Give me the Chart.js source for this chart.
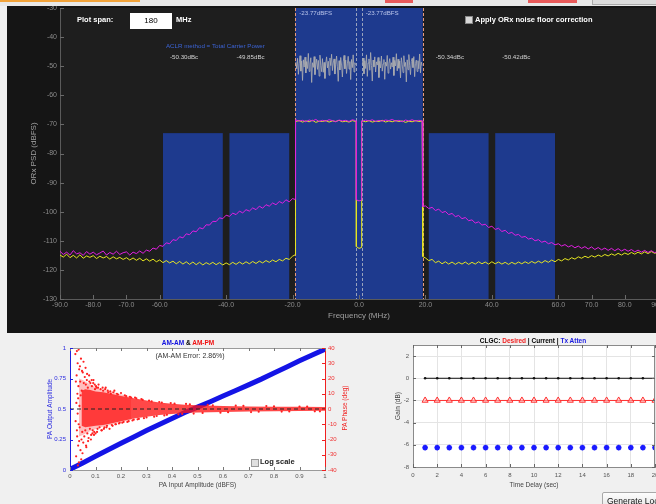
<!DOCTYPE html>
<html>
<head>
<meta charset="utf-8">
<title>ORx PSD / AM-AM / CLGC</title>
<script src="https://cdn.jsdelivr.net/npm/chart.js@4.4.1/dist/chart.umd.min.js"></script>
<style>
  html, body { margin: 0; padding: 0; }
  body { width: 656px; height: 504px; overflow: hidden; position: relative; background: #f0f0f0;
         font-family: "Liberation Sans", Arial, sans-serif; }
  .abs { position: absolute; white-space: nowrap; }
  canvas { position: absolute; }
  #header { left: 0; top: 0; width: 656px; height: 6px; background: #e8e8e8; overflow: hidden; z-index: 5; }
  #panel { left: 7px; top: 6px; width: 660px; height: 327px; background: #151515; }
  .w { color: #fff; font-weight: bold; font-size: 7.5px; line-height: 10px; }
  .btn { border: 1px solid #a8a8a8; border-radius: 2px; background: linear-gradient(#fdfdfd, #e4e4e4);
         font-size: 8.5px; line-height: 16px; color: #111; padding-left: 4px; }
</style>
</head>
<body>
<div id="header" class="abs">
  <div class="abs" style="left:0;top:0;width:140px;height:2px;background:#f2a33a"></div>
  <div class="abs" style="left:147px;top:-9px;font-size:9px;color:#2a7fd0">&#9654;</div>
  <div class="abs" style="left:160px;top:-14px;font-size:15px;color:#333"><b>Radio</b>Verse</div>
  <div class="abs" style="left:385px;top:0;width:28px;height:3px;background:#e85a5a"></div>
  <div class="abs" style="left:528px;top:0;width:49px;height:3px;background:#e85a5a"></div>
  <div class="abs" style="left:592px;top:-2px;width:70px;height:5px;background:#dcdcdc;border:1px solid #aaa"></div>
</div>
<div id="panel" class="abs"></div>
<canvas id="psd" width="670" height="333" style="left:0;top:0"></canvas>

<div class="abs w" style="left:77px;top:15px">Plot span:</div>
<div class="abs" style="left:130px;top:13px;width:42px;height:16px;background:#fff;color:#000;font-size:8px;line-height:16px;text-align:center">180</div>
<div class="abs w" style="left:176px;top:15px">MHz</div>
<div class="abs" style="left:465px;top:16px;width:6px;height:6px;background:#d8d8d8;border:1px solid #888"></div>
<div class="abs w" style="left:475px;top:15px">Apply ORx noise floor correction</div>

<canvas id="amam" width="362" height="171" style="left:0;top:333px"></canvas>
<div class="abs" style="left:138px;top:339px;width:100px;text-align:center;font-size:6.5px;font-weight:bold;line-height:8px"><span style="color:#1010e0">AM-AM</span> &amp; <span style="color:#f01010">AM-PM</span></div>
<div class="abs" style="left:140px;top:351px;width:100px;text-align:center;font-size:7px;color:#333;line-height:9px">(AM-AM Error: 2.86%)</div>
<div class="abs" style="left:251px;top:459px;width:6px;height:6px;background:#e0e0e0;border:1px solid #999"></div>
<div class="abs" style="left:260px;top:457px;font-size:7.5px;font-weight:bold;color:#222;line-height:10px">Log scale</div>
<div class="abs" style="left:345px;top:408px;transform:translate(-50%,-50%) rotate(-90deg);font-size:6.5px;color:#f02020;line-height:8px">PA Phase (deg)</div>

<canvas id="clgc" width="300" height="171" style="left:365px;top:333px"></canvas>
<div class="abs" style="left:433px;top:337px;width:200px;text-align:center;font-size:6.5px;font-weight:bold;line-height:8px">CLGC: <span style="color:#f02020">Desired</span> | Current | <span style="color:#1a1ae0">Tx Atten</span></div>
<div class="abs btn" style="left:602px;top:492px;width:76px;height:16px">Generate Loop...</div>

<script>
// ---------- ORx PSD spectrum ----------
const freqMHz = [
  -90, -89, -88, -87, -86, -85, -84, -83, -82, -81,
  -80, -79, -78, -77, -76, -75, -74, -73, -72, -71,
  -70, -69, -68, -67, -66, -65, -64, -63, -62, -61,
  -60, -59, -58, -57, -56, -55, -54, -53, -52, -51,
  -50, -49, -48, -47, -46, -45, -44, -43, -42, -41,
  -40, -39, -38, -37, -36, -35, -34, -33, -32, -31,
  -30, -29, -28, -27, -26, -25, -24, -23, -22, -21,
  -20,
  -19.2, -19.2,
  -19, -18, -17, -16, -15, -14, -13, -12, -11, -10, -9, -8, -7, -6, -5, -4, -3, -2, -1,
  -0.8, -0.8, 0, 0.8, 0.8,
  1, 2, 3, 4, 5, 6, 7, 8, 9, 10, 11, 12, 13, 14, 15, 16, 17, 18, 19,
  19.2, 19.2,
  20, 21, 22, 23, 24, 25, 26, 27, 28, 29,
  30, 31, 32, 33, 34, 35, 36, 37, 38, 39,
  40, 41, 42, 43, 44, 45, 46, 47, 48, 49,
  50, 51, 52, 53, 54, 55, 56, 57, 58, 59,
  60, 61, 62, 63, 64, 65, 66, 67, 68, 69,
  70, 71, 72, 73, 74, 75, 76, 77, 78, 79,
  80, 81, 82, 83, 84, 85, 86, 87, 88, 89,
  90
];
// PA output spectrum (magenta)
const paOutDb = [
  -113.6, -114.7, -113.9, -114.9, -113.4, -114.5, -114.1, -115.0, -113.7, -114.6,
  -113.9, -114.8, -114.2, -113.5, -114.9, -114.0, -114.6, -113.6, -114.7, -114.1,
  -113.8, -114.9, -113.9, -114.4, -113.5, -114.3, -113.2, -113.6, -112.5, -112.9,
  -111.6, -111.9, -110.7, -111.0, -109.6, -109.9, -108.6, -109.0, -107.6, -107.9,
  -106.6, -106.9, -105.5, -105.9, -104.5, -104.6, -103.3, -103.4, -102.1, -102.4,
  -101.2, -101.6, -100.5, -101.0, -99.8, -100.4, -99.3, -99.8, -98.7, -99.3,
  -98.1, -98.8, -97.6, -98.1, -97.0, -97.6, -96.5, -97.1, -95.9, -96.6,
  -95.5,
  -95.8, -68.9,
  -68.4, -68.9, -68.6, -69.1, -68.5, -68.8, -68.3, -69.0, -68.6, -68.9, -68.4, -68.7, -69.1, -68.5, -68.8, -68.6, -69.0, -68.4, -68.7,
  -68.8, -95.9, -96.3, -96.0, -68.7,
  -68.9, -68.5, -68.8, -68.4, -69.0, -68.6, -68.9, -68.5, -68.7, -68.3, -68.9, -68.6, -69.1, -68.5, -68.8, -68.4, -68.9, -68.6, -68.8,
  -68.7, -98.2,
  -98.0, -98.9, -98.5, -99.6, -99.1, -100.3, -99.9, -101.0, -100.6, -101.7,
  -101.3, -102.4, -102.0, -103.1, -102.8, -103.9, -103.5, -104.6, -104.3, -105.4,
  -105.0, -106.1, -105.7, -106.8, -106.4, -107.5, -107.1, -108.1, -107.8, -108.8,
  -108.5, -109.4, -109.1, -110.0, -109.6, -110.5, -110.1, -111.0, -110.6, -111.4,
  -111.0, -111.8, -111.3, -112.1, -111.6, -112.4, -111.8, -112.6, -112.0, -112.8,
  -112.1, -113.0, -112.3, -113.1, -112.5, -113.3, -112.6, -113.4, -112.7, -113.5,
  -112.9, -113.6, -113.0, -113.8, -113.2, -113.9, -113.3, -114.0, -113.4, -114.1,
  -113.6
];
// linearized (post-DPD) spectrum (yellow)
const dpdOutDb = [
  -114.9, -115.6, -114.6, -115.8, -115.0, -115.9, -114.8, -116.0, -115.2, -115.7,
  -115.1, -116.1, -115.3, -115.9, -115.4, -116.3, -115.5, -116.2, -115.7, -116.4,
  -115.8, -116.6, -115.9, -116.7, -116.0, -116.9, -116.2, -117.0, -116.3, -117.2,
  -116.6, -117.5, -116.8, -117.6, -117.0, -117.9, -117.1, -118.0, -117.2, -118.1,
  -117.3, -118.2, -117.4, -118.3, -117.5, -118.1, -117.4, -118.2, -117.5, -118.3,
  -117.6, -118.2, -117.4, -118.1, -117.3, -118.0, -117.2, -117.9, -117.1, -117.8,
  -117.0, -117.6, -116.8, -117.4, -116.6, -117.2, -116.4, -116.9, -116.0, -116.4,
  -115.3,
  -114.8, -69.1,
  -69.0, -68.7, -69.2, -68.8, -69.1, -68.6, -69.3, -68.9, -69.0, -68.7, -69.2, -68.8, -69.0, -68.6, -69.1, -68.9, -69.2, -68.7, -69.0,
  -69.0, -112.0, -112.6, -112.3, -69.1,
  -68.8, -69.1, -68.7, -69.2, -68.9, -69.0, -68.6, -69.2, -68.8, -69.1, -68.7, -69.0, -68.8, -69.3, -68.9, -69.1, -68.7, -69.0, -68.9,
  -69.0, -115.4,
  -115.9, -116.8, -116.4, -117.5, -117.0, -117.9, -117.2, -118.0, -117.3, -118.1,
  -117.4, -118.0, -117.3, -118.1, -117.4, -118.0, -117.2, -117.9, -117.3, -118.0,
  -117.2, -117.9, -117.3, -118.0, -117.4, -118.1, -117.4, -118.0, -117.3, -117.9,
  -117.2, -117.8, -117.1, -117.7, -117.0, -117.6, -116.8, -117.4, -116.6, -117.2,
  -116.4, -116.9, -116.1, -116.6, -115.8, -116.3, -115.5, -116.0, -115.3, -115.8,
  -115.1, -115.6, -114.9, -115.4, -114.7, -115.2, -114.5, -115.0, -114.3, -114.9,
  -114.2, -114.7, -114.0, -114.6, -113.9, -114.5, -113.8, -114.4, -113.7, -114.3,
  -113.9
];
// TX reference spectrum inside the two carriers (gray)
const txFreqMHz = [
  -19, -18.75, -18.5, -18.25, -18, -17.75, -17.5, -17.25, -17, -16.75,
  -16.5, -16.25, -16, -15.75, -15.5, -15.25, -15, -14.75, -14.5, -14.25,
  -14, -13.75, -13.5, -13.25, -13, -12.75, -12.5, -12.25, -12, -11.75,
  -11.5, -11.25, -11, -10.75, -10.5, -10.25, -10, -9.75, -9.5, -9.25,
  -9, -8.75, -8.5, -8.25, -8, -7.75, -7.5, -7.25, -7, -6.75,
  -6.5, -6.25, -6, -5.75, -5.5, -5.25, -5, -4.75, -4.5, -4.25,
  -4, -3.75, -3.5, -3.25, -3, -2.75, -2.5, -2.25, -2, -1.75,
  -1.5, -1.25, -1,
  0,
  1, 1.25, 1.5, 1.75, 2, 2.25, 2.5, 2.75, 3, 3.25,
  3.5, 3.75, 4, 4.25, 4.5, 4.75, 5, 5.25, 5.5, 5.75,
  6, 6.25, 6.5, 6.75, 7, 7.25, 7.5, 7.75, 8, 8.25,
  8.5, 8.75, 9, 9.25, 9.5, 9.75, 10, 10.25, 10.5, 10.75,
  11, 11.25, 11.5, 11.75, 12, 12.25, 12.5, 12.75, 13, 13.25,
  13.5, 13.75, 14, 14.25, 14.5, 14.75, 15, 15.25, 15.5, 15.75,
  16, 16.25, 16.5, 16.75, 17, 17.25, 17.5, 17.75, 18, 18.25,
  18.5, 18.75, 19
];
const txRefDb = [
  -48.6, -50.9, -47.3, -52.8, -49.1, -46.4, -51.7, -48.2, -54.9, -47.8,
  -50.3, -46.9, -52.3, -48.4, -50.8, -45.6, -51.8, -49.3, -47.1, -55.6,
  -48.8, -50.4, -46.7, -52.9, -49.5, -47.6, -51.1, -48.0, -53.4, -46.2,
  -49.7, -51.9, -47.4, -52.1, -48.7, -54.2, -49.0, -46.8, -50.6, -48.3,
  -53.1, -47.2, -49.8, -45.9, -51.5, -48.9, -47.5, -52.7, -49.4, -46.5,
  -50.2, -55.2, -48.1, -51.3, -47.0, -49.6, -53.7, -48.5, -46.3, -50.9,
  -47.9, -52.5, -49.2, -46.6, -51.0, -48.4, -54.6, -47.7, -50.5, -46.1,
  -52.0, -48.8, -49.5,
  null,
  -49.4, -47.2, -52.6, -48.1, -50.8, -46.1, -53.5, -48.9, -47.5, -51.4,
  -45.3, -49.8, -55.1, -47.9, -50.2, -46.8, -52.0, -48.5, -49.6, -47.0,
  -53.9, -48.3, -50.6, -46.5, -51.7, -49.2, -47.7, -54.5, -48.6, -50.0,
  -46.3, -52.4, -49.0, -47.4, -51.0, -48.8, -50.3, -46.9, -53.2, -48.0,
  -49.9, -45.7, -51.6, -47.6, -50.7, -48.2, -54.0, -47.1, -49.3, -52.2,
  -46.4, -50.1, -48.7, -55.4, -47.8, -51.2, -46.0, -49.7, -52.9, -48.4,
  -47.3, -50.5, -46.7, -53.6, -49.1, -47.9, -51.8, -48.1, -50.9, -45.8,
  -52.3, -48.6, -49.8
];
const freqTicksMHz = [-90, -80, -70, -60, -40, -20, 0, 20, 40, 60, 70, 80, 90];
const psdTicksDb = [-130, -120, -110, -100, -90, -80, -70, -60, -50, -40, -30];

const carrierStartMHz = [-19.2, 0.8];
const carrierStopMHz = [-0.8, 19.2];
const carrierPower = ['-23.77dBFS', '-23.77dBFS'];
const aclrStartMHz = [-59, -39, 21, 41];
const aclrStopMHz = [-41, -21, 39, 59];
const aclrTopDb = -73;
const aclrDbc = ['-50.30dBc', '-49.85dBc', '-50.34dBc', '-50.42dBc'];

// ---------- AM-AM / AM-PM ----------
const amInBlue = [0, 0.05, 0.1, 0.15, 0.2, 0.25, 0.3, 0.35, 0.4, 0.45, 0.5, 0.55, 0.6, 0.65, 0.7, 0.75, 0.8, 0.85, 0.9, 0.95, 1.0];
const amOutBlue = [0.005, 0.058, 0.112, 0.166, 0.219, 0.271, 0.323, 0.373, 0.423, 0.471, 0.515, 0.56, 0.606, 0.652, 0.698, 0.745, 0.795, 0.845, 0.895, 0.943, 0.99];

// densest part of the AM-PM cloud (deg)
const phaseCoreX = [0.045, 0.06, 0.08, 0.1, 0.13, 0.16, 0.2, 0.25, 0.3, 0.35, 0.4, 0.45, 0.5, 0.6, 0.7, 0.8, 0.9, 1.0];
const phaseCoreHi = [12, 13, 12.5, 11.5, 11, 10, 8.5, 7, 5.5, 4.2, 3.4, 2.8, 2.4, 2.0, 1.7, 1.5, 1.4, 1.3];
const phaseCoreLo = [-11, -12, -11.5, -11, -10.5, -9.5, -8, -6.2, -5, -4, -3.2, -2.7, -2.3, -1.9, -1.6, -1.4, -1.3, -1.2];
// thinner halo around it
const phaseHaloX = [0.035, 0.05, 0.08, 0.12, 0.18, 0.24];
const phaseHaloHi = [20, 19, 16, 13, 10.5, 8];
const phaseHaloLo = [-18, -17, -14.5, -12, -9.5, -7];
// scattered AM-PM samples
const amInRed = [
  0.021, 0.022, 0.023, 0.024, 0.025, 0.026, 0.027, 0.027, 0.028, 0.029, 0.03, 0.03, 0.031, 0.032, 0.032, 0.033, 0.034, 0.034, 0.035, 0.036,
  0.036, 0.037, 0.038, 0.039, 0.04, 0.041, 0.042, 0.043, 0.044, 0.045, 0.046, 0.047, 0.048, 0.049, 0.05, 0.052, 0.053, 0.054, 0.056, 0.058,
  0.06, 0.061, 0.062, 0.063, 0.064, 0.066, 0.067, 0.068, 0.07, 0.071, 0.073, 0.075, 0.076, 0.078, 0.08, 0.082, 0.083, 0.085, 0.086, 0.088,
  0.089, 0.091, 0.092, 0.094, 0.095, 0.097, 0.098, 0.1, 0.102, 0.104, 0.106, 0.108, 0.11, 0.112, 0.116,
  0.12, 0.123, 0.125, 0.128, 0.13, 0.133, 0.135, 0.138, 0.14, 0.143, 0.145, 0.148, 0.15, 0.155, 0.158, 0.16, 0.164, 0.167,
  0.17, 0.174, 0.178, 0.18, 0.184, 0.188, 0.192, 0.195, 0.2, 0.205, 0.21, 0.215, 0.22, 0.225, 0.23, 0.235, 0.24, 0.245,
  0.25, 0.255, 0.26, 0.265, 0.27, 0.28, 0.285, 0.29, 0.3, 0.31, 0.32, 0.33, 0.34, 0.35, 0.36, 0.37, 0.38, 0.395, 0.41, 0.425,
  0.44, 0.455, 0.47, 0.485,
  0.52, 0.54, 0.56, 0.59, 0.62, 0.65, 0.68, 0.71, 0.74, 0.77, 0.8, 0.83, 0.86, 0.9, 0.93, 0.96, 0.98
];
const phaseRedDeg = [
  36, -8, 18, -31, 4, 22, 38, -14, -18, 10, 30, -3, -37, -24, 7, 15, 39, -10, -35, 26,
  -21, 2, -12, 28, 18, -27, 9, 33, -33, -20, 12, 25, -15, -29, 24, -22, 31, 17, -18, 21,
  -14, 27, 16, -24, -25, 19, 23, -16, 14, -21, -19, 22, 18, -13, 17, -20, -17, 19, 15, -16,
  -14, 17, 19, -17, -15, 16, 13, -16, 15, 14, -15, -13, 14, 16, -12,
  13, -14, -14, 14, 12, -13, -12, 13, 14, -12, -11, 12, 11, -13, 11.5, 10, -10.5, -11,
  11, 12, -10, -10, 10, 9.5, -9.5, -9, 10.5, -9, -8.5, 9, 8.5, -8.5, -8, 8, 7.5, -7.5,
  -7, 7.5, 7, -6.8, -6.5, 6.5, 6, -6, -5.5, 5.5, 5, -5, -4.6, 4.6, 4.2, -4.2, -3.8, 3.9, 3.5, -3.5,
  -3.2, 3.3, 3, -3,
  -2.6, 2.7, 2.4, -2.4, -2.1, 2.2, 2, -2, -1.8, 1.9, 1.7, -1.7, -1.6, 1.6, 1.5, -1.5, -1.5
];
const zeroPhaseX = [0, 1];
const zeroPhaseDeg = [0, 0];

// ---------- CLGC ----------
const timeSec = [1, 2, 3, 4, 5, 6, 7, 8, 9, 10, 11, 12, 13, 14, 15, 16, 17, 18, 19, 20];
const desiredGainDb = [-2, -2, -2, -2, -2, -2, -2, -2, -2, -2, -2, -2, -2, -2, -2, -2, -2, -2, -2, -2];
const currentGainDb = [0, 0, 0, 0, 0, 0, 0, 0, 0, 0, 0, 0, 0, 0, 0, 0, 0, 0, 0, 0];
const txAttenDb = [-6.25, -6.25, -6.25, -6.25, -6.25, -6.25, -6.25, -6.25, -6.25, -6.25, -6.25, -6.25, -6.25, -6.25, -6.25, -6.25, -6.25, -6.25, -6.25, -6.25];

Chart.defaults.font.family = '"Liberation Sans", Arial, sans-serif';
Chart.defaults.animation = false;

const pts = (xs, ys) => xs.map((v, i) => ({x: v, y: ys[i]}));
const fixTicks = vals => s => { s.ticks = vals.map(v => ({value: v})); };

// plot area fill + frame sides
const plotBox = {
  id: 'plotBox',
  beforeDraw(chart, args, opts) {
    const {ctx, chartArea: a} = chart;
    ctx.save();
    ctx.fillStyle = opts.fill;
    ctx.fillRect(a.left, a.top, a.right - a.left, a.bottom - a.top);
    ctx.restore();
  },
  afterDraw(chart, args, opts) {
    const {ctx, chartArea: a} = chart;
    ctx.save();
    ctx.strokeStyle = opts.stroke || '#888';
    ctx.lineWidth = 1;
    ctx.beginPath();
    if (opts.top) { ctx.moveTo(a.left, a.top + 0.5); ctx.lineTo(a.right, a.top + 0.5); }
    if (opts.right) { ctx.moveTo(a.right - 0.5, a.top); ctx.lineTo(a.right - 0.5, a.bottom); }
    ctx.stroke();
    ctx.restore();
  }
};

// MATLAB style tick marks pointing into the plot
const innerTicks = {
  id: 'innerTicks',
  afterDraw(chart, args, opts) {
    const {ctx, chartArea: a} = chart;
    const len = opts.len || 3;
    ctx.save();
    ctx.lineWidth = 1;
    Object.values(chart.scales).forEach(s => {
      ctx.strokeStyle = (opts.colors && opts.colors[s.id]) || opts.color || '#666';
      ctx.beginPath();
      s.ticks.forEach(t => {
        const p = Math.round(s.getPixelForValue(t.value)) + 0.5;
        if (s.isHorizontal()) {
          ctx.moveTo(p, a.bottom); ctx.lineTo(p, a.bottom - len);
          if (opts.mirror) { ctx.moveTo(p, a.top); ctx.lineTo(p, a.top + len); }
        } else if (s.position === 'left') {
          ctx.moveTo(a.left, p); ctx.lineTo(a.left + len, p);
          if (opts.mirror) { ctx.moveTo(a.right, p); ctx.lineTo(a.right - len, p); }
        } else {
          ctx.moveTo(a.right, p); ctx.lineTo(a.right - len, p);
        }
      });
      ctx.stroke();
    });
    ctx.restore();
  }
};

// carrier / adjacent channel blocks and their readouts
const channelBands = {
  id: 'channelBands',
  beforeDatasetsDraw(chart) {
    const {ctx, chartArea: a, scales: {x, y}} = chart;
    ctx.save();
    ctx.beginPath();
    ctx.rect(a.left, a.top, a.right - a.left, a.bottom - a.top);
    ctx.clip();
    ctx.fillStyle = '#1e3a8e';
    const yt = y.getPixelForValue(aclrTopDb);
    aclrStartMHz.forEach((f, i) => {
      const x0 = x.getPixelForValue(f), x1 = x.getPixelForValue(aclrStopMHz[i]);
      ctx.fillRect(x0, yt, x1 - x0, a.bottom - yt);
    });
    const c0 = x.getPixelForValue(carrierStartMHz[0]);
    const c1 = x.getPixelForValue(carrierStopMHz[carrierStopMHz.length - 1]);
    ctx.fillRect(c0, a.top, c1 - c0, a.bottom - a.top);
    ctx.setLineDash([3, 2]);
    ctx.lineWidth = 1;
    const edges = carrierStartMHz.concat(carrierStopMHz);
    edges.forEach(f => {
      const outer = f === carrierStartMHz[0] || f === carrierStopMHz[carrierStopMHz.length - 1];
      ctx.strokeStyle = outer ? '#e89a7a' : '#9aa3bd';
      const px = Math.round(x.getPixelForValue(f)) + 0.5;
      ctx.beginPath();
      ctx.moveTo(px, a.top);
      ctx.lineTo(px, a.bottom);
      ctx.stroke();
    });
    ctx.restore();
  },
  afterDatasetsDraw(chart) {
    const {ctx, chartArea: a, scales: {x}} = chart;
    ctx.save();
    ctx.textBaseline = 'middle';
    ctx.font = '6.2px "Liberation Sans", Arial';
    ctx.fillStyle = '#b9c4ea';
    carrierStartMHz.forEach((f, i) => ctx.fillText(carrierPower[i], x.getPixelForValue(f) + 4, a.top + 5.5));
    ctx.fillStyle = '#3c64d6';
    ctx.fillText('ACLR method = Total Carrier Power', x.getPixelForValue(aclrStartMHz[0]) + 3, a.top + 38);
    ctx.fillStyle = '#d2d2d2';
    aclrStartMHz.forEach((f, i) => ctx.fillText(aclrDbc[i], x.getPixelForValue(f) + 7, a.top + 49.5));
    ctx.restore();
  }
};

new Chart(document.getElementById('psd'), {
  type: 'line',
  data: {
    datasets: [
      {label: 'TX', data: pts(txFreqMHz, txRefDb), borderColor: '#b0b0b0', borderWidth: 0.8, pointRadius: 0, order: 0},
      {label: 'PA out', data: pts(freqMHz, paOutDb), borderColor: '#e31ee3', borderWidth: 1, pointRadius: 0, order: 1},
      {label: 'DPD out', data: pts(freqMHz, dpdOutDb), borderColor: '#e6e620', borderWidth: 1, pointRadius: 0, order: 2}
    ]
  },
  options: {
    responsive: false,
    devicePixelRatio: 1,
    layout: {padding: {top: 8, right: 12, left: 0, bottom: 0}},
    plugins: {
      legend: {display: false},
      tooltip: {enabled: false},
      plotBox: {fill: '#1e1e1e'},
      innerTicks: {color: '#6a6a6a', len: 4}
    },
    scales: {
      x: {
        type: 'linear', min: -90, max: 90,
        afterBuildTicks: fixTicks(freqTicksMHz),
        afterFit: s => { s.height = 34; },
        grid: {display: false, drawTicks: false},
        border: {display: true, color: '#5a5a5a'},
        ticks: {color: '#8c8c8c', font: {size: 7}, padding: 2, autoSkip: false, maxRotation: 0,
                callback: v => v.toFixed(1)},
        title: {display: true, text: 'Frequency (MHz)', color: '#a0a0a0', font: {size: 8}, padding: {top: 0, bottom: 12}}
      },
      y: {
        min: -130, max: -30,
        afterBuildTicks: fixTicks(psdTicksDb),
        afterFit: s => { s.width = 60; },
        grid: {display: false, drawTicks: false},
        border: {display: true, color: '#5a5a5a'},
        ticks: {color: '#8c8c8c', font: {size: 7}, padding: 3},
        title: {display: true, text: 'ORx PSD (dBFS)', color: '#a0a0a0', font: {size: 8}, padding: {top: 29, bottom: 0}}
      }
    }
  },
  plugins: [plotBox, channelBands, innerTicks]
});

const clear = 'rgba(0,0,0,0)';
new Chart(document.getElementById('amam'), {
  type: 'line',
  data: {
    datasets: [
      {label: 'AM-AM', data: pts(amInBlue, amOutBlue), yAxisID: 'y', borderColor: '#1414e6', borderWidth: 5,
       pointRadius: 0, order: 5},
      {label: 'AM-PM halo', data: pts(phaseHaloX, phaseHaloHi), yAxisID: 'y2', borderColor: clear,
       pointRadius: 0, fill: 2, backgroundColor: 'rgba(255,40,40,0.3)', order: 4},
      {label: 'AM-PM halo lo', data: pts(phaseHaloX, phaseHaloLo), yAxisID: 'y2', borderColor: clear,
       pointRadius: 0, fill: false, order: 4},
      {label: 'AM-PM core', data: pts(phaseCoreX, phaseCoreHi), yAxisID: 'y2', borderColor: clear,
       pointRadius: 0, fill: 4, backgroundColor: 'rgba(255,20,20,0.78)', order: 3},
      {label: 'AM-PM core lo', data: pts(phaseCoreX, phaseCoreLo), yAxisID: 'y2', borderColor: clear,
       pointRadius: 0, fill: false, order: 3},
      {label: 'AM-PM', data: pts(amInRed, phaseRedDeg), yAxisID: 'y2', showLine: false, pointRadius: 1.1,
       pointBackgroundColor: '#ff2020', pointBorderWidth: 0, order: 2},
      {label: 'zero', data: pts(zeroPhaseX, zeroPhaseDeg), yAxisID: 'y2', borderColor: '#222', borderWidth: 1,
       borderDash: [4, 3], pointRadius: 0, order: 1}
    ]
  },
  options: {
    responsive: false,
    devicePixelRatio: 1,
    layout: {padding: {top: 15, right: 0, left: 0, bottom: 0}},
    plugins: {
      legend: {display: false},
      tooltip: {enabled: false},
      plotBox: {fill: '#ffffff', stroke: '#9a9a9a', top: true},
      innerTicks: {len: 3, mirror: true, colors: {x: '#777', y: '#2020e0', y2: '#f02020'}}
    },
    scales: {
      x: {
        type: 'linear', min: 0, max: 1,
        afterBuildTicks: fixTicks([0, 0.1, 0.2, 0.3, 0.4, 0.5, 0.6, 0.7, 0.8, 0.9, 1]),
        afterFit: s => { s.height = 34; },
        grid: {display: false, drawTicks: false},
        border: {display: true, color: '#9a9a9a'},
        ticks: {color: '#555', font: {size: 6}, padding: 3, autoSkip: false, maxRotation: 0,
                callback: v => String(+v.toFixed(2))},
        title: {display: true, text: 'PA Input Amplitude (dBFS)', color: '#444', font: {size: 6.5}, padding: {top: 0, bottom: 15}}
      },
      y: {
        position: 'left', min: 0, max: 1,
        afterBuildTicks: fixTicks([0, 0.25, 0.5, 0.75, 1]),
        afterFit: s => { s.width = 70; },
        grid: {display: false, drawTicks: false},
        border: {display: true, color: '#2020e0'},
        ticks: {color: '#2a2ae0', font: {size: 6}, padding: 4, callback: v => String(+v.toFixed(2))},
        title: {display: true, text: 'PA Output Amplitude', color: '#2a2ae0', font: {size: 6.5}, padding: {top: 46, bottom: 0}}
      },
      y2: {
        position: 'right', min: -40, max: 40,
        afterBuildTicks: fixTicks([-40, -30, -20, -10, 0, 10, 20, 30, 40]),
        afterFit: s => { s.width = 37; },
        grid: {display: false, drawTicks: false},
        border: {display: true, color: '#f02020'},
        ticks: {color: '#f03030', font: {size: 6}, padding: 3}
      }
    }
  },
  plugins: [plotBox, innerTicks]
});

new Chart(document.getElementById('clgc'), {
  type: 'line',
  data: {
    datasets: [
      {label: 'Current', data: pts(timeSec, currentGainDb), borderColor: '#111', borderWidth: 1, pointRadius: 1.3,
       pointBackgroundColor: '#111', pointBorderWidth: 0},
      {label: 'Desired', data: pts(timeSec, desiredGainDb), borderColor: '#ff3030', borderWidth: 1,
       pointStyle: 'triangle', pointRadius: 3.5, pointBorderColor: '#ff3030', pointBorderWidth: 1,
       pointBackgroundColor: 'rgba(255,190,190,0.5)'},
      {label: 'Tx Atten', data: pts(timeSec, txAttenDb), showLine: false, pointStyle: 'star', pointRadius: 2.8,
       pointBorderColor: '#1a1aff', pointBorderWidth: 1.6}
    ]
  },
  options: {
    responsive: false,
    devicePixelRatio: 1,
    layout: {padding: {top: 12, right: 10, left: 0, bottom: 0}},
    plugins: {
      legend: {display: false},
      tooltip: {enabled: false},
      plotBox: {fill: '#ffffff', stroke: '#8a8a8a', top: true, right: true},
      innerTicks: {len: 3, mirror: true, color: '#666'}
    },
    scales: {
      x: {
        type: 'linear', min: 0, max: 20,
        afterBuildTicks: fixTicks([0, 2, 4, 6, 8, 10, 12, 14, 16, 18, 20]),
        afterFit: s => { s.height = 37; },
        grid: {color: '#e4e4e4', drawTicks: false},
        border: {display: true, color: '#8a8a8a'},
        ticks: {color: '#555', font: {size: 6}, padding: 5, autoSkip: false, maxRotation: 0},
        title: {display: true, text: 'Time Delay (sec)', color: '#444', font: {size: 6.5}, padding: {top: 0, bottom: 15}}
      },
      y: {
        min: -8, max: 3,
        afterBuildTicks: fixTicks([-8, -6, -4, -2, 0, 2]),
        afterFit: s => { s.width = 48; },
        grid: {color: '#e4e4e4', drawTicks: false},
        border: {display: true, color: '#8a8a8a'},
        ticks: {color: '#555', font: {size: 6}, padding: 4},
        title: {display: true, text: 'Gain (dB)', color: '#444', font: {size: 6.5}, padding: {top: 29, bottom: 0}}
      }
    }
  },
  plugins: [plotBox, innerTicks]
});
</script>
</body>
</html>
